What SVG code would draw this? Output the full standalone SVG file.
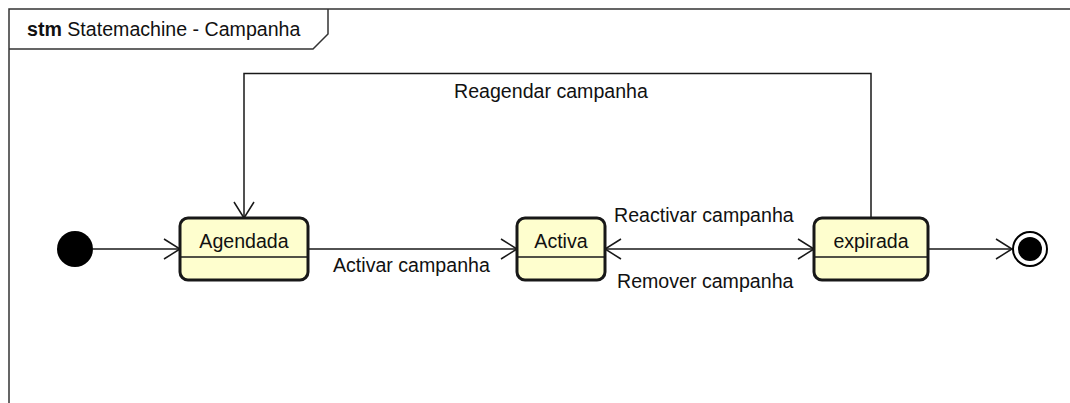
<svg xmlns="http://www.w3.org/2000/svg" width="1070" height="403" viewBox="0 0 1070 403">
  <defs>
    <style>
      text { font-family: "Liberation Sans", Arial, sans-serif; font-size: 19.6px; fill: #111; }
      .frame { fill: none; stroke: #333; stroke-width: 1.5; }
      .state { fill: #FEFECE; stroke: #181818; stroke-width: 3; }
      .sep { stroke: #181818; stroke-width: 1.5; }
      .edge { fill: none; stroke: #181818; stroke-width: 1.5; }
      .head { fill: none; stroke: #181818; stroke-width: 1.5; }
    </style>
    <marker id="open" viewBox="-17 -11 19 22" refX="0" refY="0" markerWidth="19" markerHeight="22" markerUnits="userSpaceOnUse" orient="auto-start-reverse">
      <path class="head" d="M-16,-10 L0,0 L-16,10"/>
    </marker>
  </defs>

  <rect width="1070" height="403" fill="#fff"/>

  <!-- state machine frame with its name tab -->
  <g id="frame">
    <path class="frame" d="M9,403 L9,9 L1070,9"/>
    <path class="frame" d="M328,9 L328,34 L313,49 L9,49"/>
    <text x="27" y="36"><tspan font-weight="bold">stm</tspan> Statemachine - Campanha</text>
  </g>

  <!-- transitions -->
  <g id="connectors">
    <path class="edge" d="M93,249 L180,249" marker-end="url(#open)"/>
    <path class="edge" d="M308,249 L517,249" marker-end="url(#open)"/>
    <path class="edge" d="M605,249 L814,249" marker-start="url(#open)" marker-end="url(#open)"/>
    <path class="edge" d="M928,249 L1012,249" marker-end="url(#open)"/>
    <path class="edge" d="M871,218 L871,73.5 L244,73.5 L244,218" marker-end="url(#open)"/>
    <text x="454" y="98">Reagendar campanha</text>
    <text x="333" y="272">Activar campanha</text>
    <text x="614" y="222">Reactivar campanha</text>
    <text x="617" y="288">Remover campanha</text>
  </g>

  <g id="initial">
    <circle cx="75" cy="249" r="18" fill="#000"/>
  </g>

  <g id="agendada">
    <rect class="state" x="180" y="218" width="128" height="62" rx="8"/>
    <line class="sep" x1="181" y1="257" x2="307" y2="257"/>
    <text x="244" y="248" text-anchor="middle">Agendada</text>
  </g>

  <g id="activa">
    <rect class="state" x="517" y="218" width="88" height="62" rx="8"/>
    <line class="sep" x1="518" y1="257" x2="604" y2="257"/>
    <text x="561" y="248" text-anchor="middle">Activa</text>
  </g>

  <g id="expirada">
    <rect class="state" x="814" y="218" width="114" height="62" rx="8"/>
    <line class="sep" x1="815" y1="257" x2="927" y2="257"/>
    <text x="871" y="248" text-anchor="middle">expirada</text>
  </g>

  <g id="final">
    <circle cx="1030" cy="249" r="17" fill="#fff" stroke="#000" stroke-width="2"/>
    <circle cx="1030" cy="249" r="12" fill="#000"/>
  </g>
</svg>
